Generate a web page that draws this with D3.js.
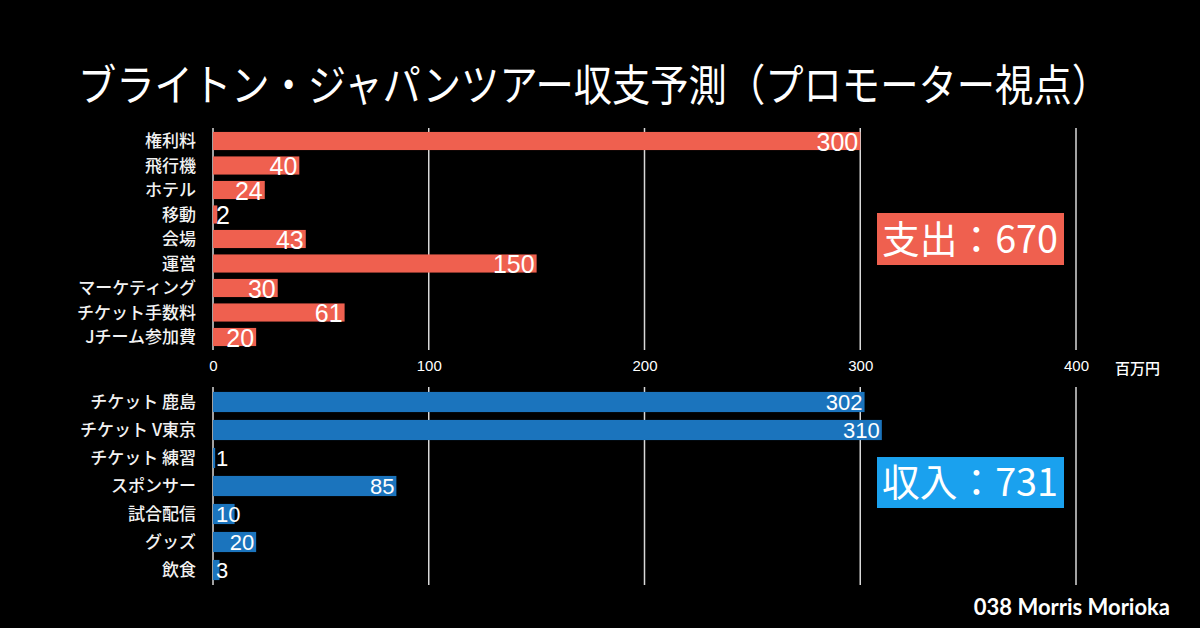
<!DOCTYPE html>
<html><head><meta charset="utf-8">
<script src="https://cdn.jsdelivr.net/npm/d3@7"></script>
<style>
html,body{margin:0;padding:0;background:#000;}
svg{display:block;}
</style></head>
<body>
<svg id="c" width="1200" height="628"></svg>
<script>
const title = "ブライトン・ジャパンツアー収支予測（プロモーター視点）";
const expenseCategories = ["権利料","飛行機","ホテル","移動","会場","運営","マーケティング","チケット手数料","Jチーム参加費"];
const expenseValues = [300,40,24,2,43,150,30,61,20];
const incomeCategories = ["チケット 鹿島","チケット V東京","チケット 練習","スポンサー","試合配信","グッズ","飲食"];
const incomeValues = [302,310,1,85,10,20,3];
const tickValues = [0,100,200,300,400];
const unitLabel = "百万円";
const expenseSummary = "支出：670";
const incomeSummary = "収入：731";
const credit = "038 Morris Morioka";

const coral = "#ef604f", barBlue = "#1b74bd", boxBlue = "#1aa1ee";
const svg = d3.select("#c");
svg.append("rect").attr("width",1200).attr("height",628).attr("fill","#000");

const x = d3.scaleLinear().domain([0,400]).range([213,1076]);

// title (slightly tall, condensed look)
svg.append("g").attr("transform","translate(78,101) scale(1,1.15)")
  .append("text").attr("x",0).attr("y",0)
  .attr("font-family","'Noto Sans CJK JP'").attr("font-size",38).attr("font-weight",400)
  .attr("fill","#fff").attr("textLength",1032).attr("lengthAdjust","spacingAndGlyphs")
  .text(title);

// gridlines
function grid(y0,y1){
  svg.append("g").selectAll("line").data(tickValues).join("line")
    .attr("x1",d=>x(d)).attr("x2",d=>x(d)).attr("y1",y0).attr("y2",y1)
    .attr("stroke","#d8d8d8").attr("stroke-width",1.5);
}
grid(128,350);
grid(387,585);

function panel(cats, vals, y0, y1, pad, color, fs){
  const y = d3.scaleBand().domain(cats).range([y0,y1]).paddingInner(pad).paddingOuter(pad/2);
  const g = svg.append("g");
  g.selectAll("rect").data(vals).join("rect")
    .attr("x",x(0)).attr("y",(d,i)=>y(cats[i]))
    .attr("width",d=>x(d)-x(0)).attr("height",y.bandwidth()).attr("fill",color);
  g.selectAll("text.cat").data(cats).join("text").attr("class","cat")
    .attr("x",196).attr("y",d=>y(d)+y.bandwidth()/2).attr("dy","0.36em")
    .attr("text-anchor","end").attr("font-family","'Noto Sans CJK JP'")
    .attr("font-size",17).attr("font-weight",500).attr("fill","#f2f2f2").text(d=>d);
  g.selectAll("text.val").data(vals).join("text").attr("class","val")
    .attr("y",(d,i)=>y(cats[i])+y.bandwidth()/2).attr("dy","0.38em")
    .attr("font-family","'Liberation Sans', Arial, sans-serif").attr("font-size",fs)
    .attr("fill","#fff").attr("text-anchor","start").text(d=>d)
    .each(function(d){
      const w = this.getComputedTextLength();
      const xs = Math.max(x(d)-2-w, x(0)+3);
      d3.select(this).attr("x",xs);
    });
}
panel(expenseCategories, expenseValues, 128.75, 349.25, 0.26, coral, 25);
panel(incomeCategories, incomeValues, 388, 584, 0.28, barBlue, 22);

// axis tick labels
const ax = svg.append("g").attr("transform","translate(0,360)")
  .call(d3.axisBottom(x).tickValues(tickValues).tickSize(0).tickPadding(0).tickFormat(d3.format("d")));
ax.select(".domain").remove();
ax.selectAll("text").attr("fill","#fff").attr("font-size",15)
  .attr("font-family","'Liberation Sans', Arial, sans-serif");
svg.append("text").attr("x",1115).attr("y",374).attr("font-family","'Noto Sans CJK JP'")
  .attr("font-size",15).attr("font-weight",500).attr("fill","#fff").text(unitLabel);

// summary boxes
function box(yTop, h, color, label){
  svg.append("rect").attr("x",877).attr("y",yTop).attr("width",187).attr("height",h).attr("fill",color);
  svg.append("text").attr("x",882).attr("y",yTop+h/2).attr("dy","0.36em")
    .attr("font-family","'Noto Sans CJK JP'").attr("font-size",38).attr("font-weight",400)
    .attr("fill","#fff").attr("textLength",176).attr("lengthAdjust","spacingAndGlyphs").text(label);
}
box(213, 52, coral, expenseSummary);
box(457, 51, boxBlue, incomeSummary);

// credit
svg.append("text").attr("x",1170).attr("y",615).attr("text-anchor","end")
  .attr("font-family","Lato, sans-serif").attr("font-weight",700).attr("font-size",22)
  .attr("fill","#fff").text(credit);
</script>
</body></html>
